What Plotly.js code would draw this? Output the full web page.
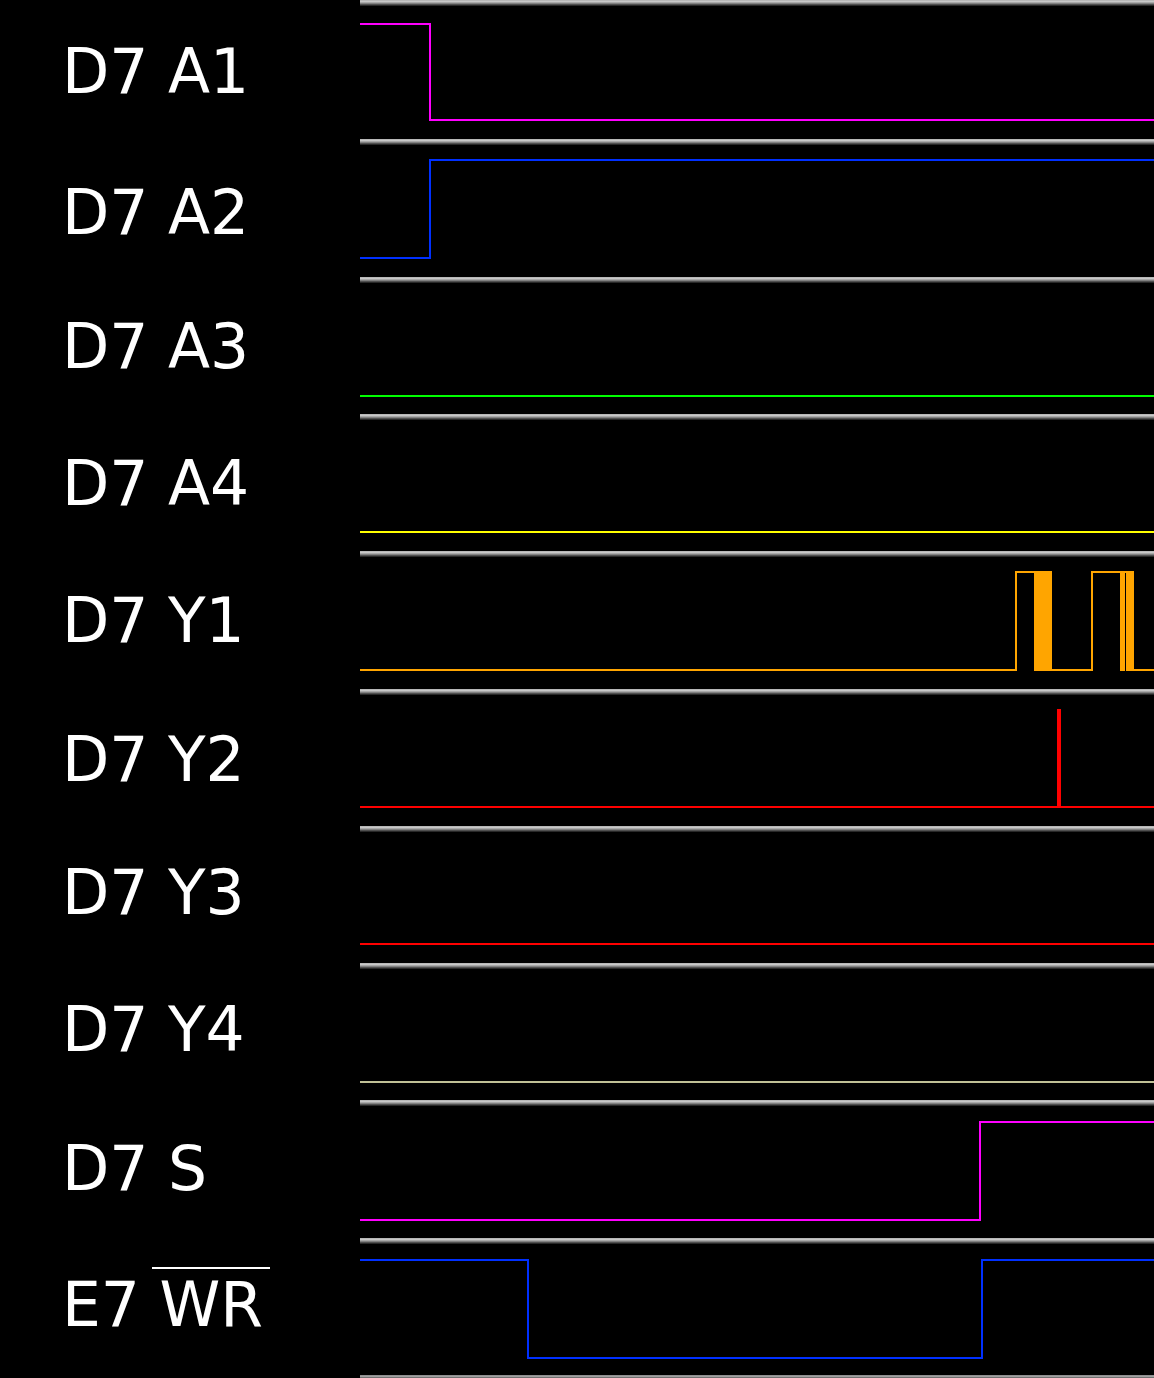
<!DOCTYPE html>
<html>
<head>
<meta charset="utf-8">
<script src="https://cdn.plot.ly/plotly-3.0.1.min.js"></script>
<style>
  html, body { margin: 0; padding: 0; background: #000; }
  #chart { width: 1154px; height: 1378px; }
</style>
</head>
<body>
<div id="chart"></div>
<script>
// ---- Channel labels (top to bottom) ----
const channelLabels = [
  'D7 A1', 'D7 A2', 'D7 A3', 'D7 A4',
  'D7 Y1', 'D7 Y2', 'D7 Y3', 'D7 Y4',
  'D7 S', 'E7 WR'
];

// ---- Time axis extent (arbitrary time units) ----
const timeStart = 0;
const timeEnd = 794;

// ---- Signal transitions: times and logic levels (step after each time) ----
const a1Time  = [0, 70, 794];
const a1Level = [1, 0, 0];

const a2Time  = [0, 70, 794];
const a2Level = [0, 1, 1];

const a3Time  = [0, 794];
const a3Level = [0, 0];

const a4Time  = [0, 794];
const a4Level = [0, 0];

const y1Time  = [0, 656, 675, 676, 677, 678, 679, 680, 681, 682, 683, 684, 685, 686, 687, 688, 689, 690, 691,
                 732, 761, 762, 763, 764, 767, 768, 769, 770, 771, 772, 773, 794];
const y1Level = [0, 1, 0, 1, 0, 1, 0, 1, 0, 1, 0, 1, 0, 1, 0, 1, 0, 1, 0,
                 1, 0, 1, 0, 1, 0, 1, 0, 1, 0, 1, 0, 0];

const y2Time  = [0, 698, 700, 794];
const y2Level = [0, 1, 0, 0];

const y3Time  = [0, 794];
const y3Level = [0, 0];

const y4Time  = [0, 794];
const y4Level = [0, 0];

const sTime   = [0, 620, 794];
const sLevel  = [0, 1, 1];

const wrTime  = [0, 168, 622, 794];
const wrLevel = [1, 0, 1, 1];

// ---- Styling / layout geometry ----
const channelColors = ['#ff00ff', '#0030ff', '#00ff00', '#ffff00', '#ffa500',
                       '#ff0000', '#ff0000', '#c0c096', '#ff00ff', '#0030ff'];
// pixel rows of each channel's low / high level, label centre and separator bands
const lowLinePx  = [120, 258, 396, 532, 670, 807, 944, 1082, 1220, 1358];
const highLinePx = [24, 160, 298, 434, 572, 710, 846, 984, 1122, 1260];
const labelMidPx = [72, 213, 347, 484, 621, 760, 893, 1030, 1169, 1305];
const separatorPx = [0, 139, 277, 414, 551, 689, 826, 963, 1100, 1238, 1375];
const levelRange = [-0.192, 1.214];

const signals = [
  [a1Time, a1Level], [a2Time, a2Level], [a3Time, a3Level], [a4Time, a4Level],
  [y1Time, y1Level], [y2Time, y2Level], [y3Time, y3Level], [y4Time, y4Level],
  [sTime, sLevel], [wrTime, wrLevel]
];

const nRows = signals.length;
const W = 1154, H = 1378, LEFT = 360;
const plotW = W - LEFT;

const traces = signals.map((s, i) => ({
  type: 'scatter',
  mode: 'lines',
  x: s[0],
  y: s[1],
  line: { shape: 'hv', color: channelColors[i], width: 2 },
  xaxis: 'x',
  yaxis: i === 0 ? 'y' : 'y' + (i + 1),
  hoverinfo: 'skip',
  showlegend: false
}));

const fontFam = 'DejaVu Sans, Verdana, sans-serif';
const layout = {
  width: W,
  height: H,
  margin: { l: LEFT, r: 0, t: 0, b: 0, pad: 0 },
  paper_bgcolor: '#000000',
  plot_bgcolor: '#000000',
  showlegend: false,
  font: { family: fontFam, color: '#ffffff' },
  xaxis: {
    range: [timeStart, timeEnd],
    visible: false,
    showgrid: false,
    zeroline: false,
    fixedrange: true
  },
  shapes: [],
  annotations: []
};

const py2paper = py => 1 - py / H;

for (let i = 0; i < nRows; i++) {
  const key = i === 0 ? 'yaxis' : 'yaxis' + (i + 1);
  const L = lowLinePx[i];
  const levelPx = lowLinePx[i] - highLinePx[i];
  const botPx = L - levelRange[0] * levelPx;
  const topPx = L - levelRange[1] * levelPx;
  layout[key] = {
    domain: [Math.max(0, py2paper(botPx)), Math.min(1, py2paper(topPx))],
    range: levelRange,
    visible: false,
    showgrid: false,
    zeroline: false,
    fixedrange: true,
    anchor: 'x'
  };
  layout.annotations.push({
    xref: 'paper', yref: 'paper',
    x: (60 - LEFT) / plotW,
    y: py2paper(labelMidPx[i]),
    xanchor: 'left', yanchor: 'middle',
    text: channelLabels[i],
    showarrow: false,
    font: { size: 61.5, color: '#ffffff', family: fontFam }
  });
}

// overline on the active-low WR signal name
layout.shapes.push({
  type: 'line', xref: 'paper', yref: 'paper',
  x0: (152 - LEFT) / plotW, x1: (270 - LEFT) / plotW,
  y0: py2paper(1268), y1: py2paper(1268),
  line: { color: '#ffffff', width: 2 },
  layer: 'above'
});

// separator bands (gradient grey)
const sepShades = ['#b8b8b8', '#c8c8c8', '#a8a8a8', '#808080', '#505050', '#282828'];
separatorPx.forEach((top, i) => {
  const shades = i === separatorPx.length - 1 ? ['#909090', '#a0a0a0', '#707070'] : sepShades;
  shades.forEach((c, k) => {
    const py = top + k + 0.5;
    const yp = py2paper(py);
    layout.shapes.push({
      type: 'line', xref: 'paper', yref: 'paper',
      x0: 0, x1: 1, y0: yp, y1: yp,
      line: { color: c, width: 1 },
      layer: 'above'
    });
  });
});

Plotly.newPlot('chart', traces, layout, { staticPlot: true, displayModeBar: false });
</script>
</body>
</html>
